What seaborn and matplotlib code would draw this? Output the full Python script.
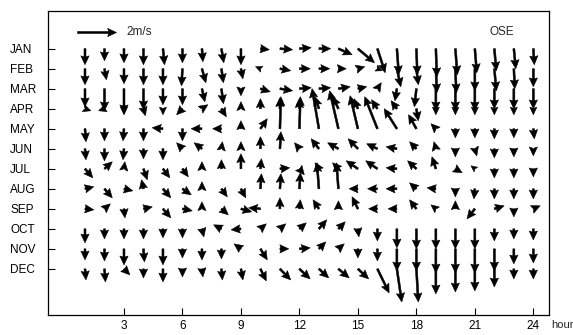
import numpy as np
import pandas as pd
import matplotlib
matplotlib.use("Agg")
import matplotlib.pyplot as plt
import seaborn as sns

# Mean wind vectors at OSE by month and hour of day (m/s)
months = ["JAN", "FEB", "MAR", "APR", "MAY", "JUN",
          "JUL", "AUG", "SEP", "OCT", "NOV", "DEC"]
hours = list(range(1, 25))
hour_ticks = [3, 6, 9, 12, 15, 18, 21, 24]

# eastward (u) and northward (v) components, hours 1..24
jan_u = [0, 0, 0, 0, 0.08, 0, 0.05, 0.12, 0, 0.45, 0.65, 0.6, 0.6, 0.7, 0.85, 0.4, 0.1, 0.05, 0.05, 0.1, 0.1, 0.1, 0.1, 0.05]
jan_v = [-0.8, -0.6, -0.7, -0.8, -0.8, -0.7, -0.65, -0.7, -0.8, -0.05, -0.05, 0.05, 0.0, -0.3, -0.7, -1.2, -1.3, -1.3, -1.4, -1.3, -1.2, -1.1, -1.0, -0.8]
feb_u = [0, 0.1, 0, 0, 0, -0.05, 0.2, 0.1, 0.1, -0.25, 0.55, 0.55, 0.55, 0.4, 0.35, 0.25, 0.2, 0.1, 0.05, 0.05, 0.0, 0.1, 0.05, 0.0]
feb_v = [-0.8, -0.55, -0.75, -0.8, -0.8, -0.85, -0.7, -0.7, -0.5, 0.1, -0.1, 0.0, 0.0, 0.0, 0.1, -0.1, -0.9, -0.8, -1.2, -1.2, -1.1, -1.1, -1.0, -0.9]
mar_u = [0, 0, 0, 0, 0, 0, 0.15, 0.1, 0, 0.5, 0.65, 0.6, 0.6, 0.6, 0.45, 0.2, -0.1, -0.1, 0, 0, 0, 0, 0, 0]
mar_v = [-0.9, -1.1, -1.25, -1.05, -0.8, -0.8, -0.65, -0.75, -0.35, -0.15, -0.1, 0.05, 0.05, 0.1, 0.1, 0.3, -0.6, -0.9, -1.1, -1.1, -1.1, -1.0, -1.0, -1.0]
apr_u = [0.3, -0.3, 0, 0.1, 0, -0.3, 0.3, 0.25, 0, 0, 0, 0, -0.2, -0.3, -0.2, -0.3, -0.3, 0.1, 0, 0, 0, 0, 0, 0]
apr_v = [-0.1, -0.1, -0.3, -0.35, -0.3, -0.3, 0.2, -0.4, 0.35, 0.5, 0.55, 0.5, 0.6, 0.6, 0.5, 0.45, 0.4, -0.6, -0.3, -0.3, -0.3, -0.3, -0.3, -0.3]
may_u = [0.05, 0, -0.05, 0, -0.55, 0, -0.55, -0.45, 0, 0.35, 0.05, 0.05, -0.35, -0.45, -0.4, -0.65, -0.65, -0.4, -0.25, 0, 0, 0, 0, 0.05]
may_v = [-0.65, -0.6, -0.6, -0.6, 0.05, -0.6, 0.0, 0.0, 0.4, 0.5, 1.6, 1.6, 2.0, 1.9, 1.65, 1.6, 1.0, 0.7, 0.25, -0.45, -0.45, -0.5, -0.45, -0.5]
jun_u = [0.05, 0, -0.05, 0, 0, -0.3, -0.4, 0.05, 0, 0, 0.05, -0.25, -0.4, -0.55, -0.5, -0.55, -0.55, -0.35, -0.1, 0, 0.1, 0, 0, 0]
jun_v = [-0.55, -0.6, -0.55, -0.5, -0.55, 0.3, 0.3, 0.35, 0.35, 0.6, 0.85, 0.3, 0.5, 0.3, 0.5, 0.25, 0.1, 0.35, 0.35, -0.4, -0.35, -0.45, -0.4, -0.35]
jul_u = [0.4, 0.4, 0.05, 0.2, 0.35, 0.3, 0, 0, 0, 0.05, 0.5, 0.25, -0.2, -0.3, -0.6, -0.6, -0.55, -0.45, -0.2, 0.35, -0.2, 0, 0, 0]
jul_v = [-0.45, 0.35, 0.35, -0.55, -0.45, -0.4, 0.35, 0.45, 0.75, 0.5, 0.05, -0.3, 0.3, 0.3, 0.4, 0.4, 0.05, 0.4, 0.6, -0.2, 0.15, -0.45, -0.45, -0.4]
aug_u = [0.45, 0.4, 0.45, -0.1, 0.4, 0.45, 0, 0.3, 0.25, 0.05, 0.05, 0.05, -0.1, -0.1, -0.45, -0.5, -0.55, -0.35, -0.45, 0, -0.05, 0, 0, 0]
aug_v = [0.1, -0.45, -0.1, 0.45, -0.45, -0.3, 0.35, -0.4, -0.45, 0.75, 0.75, 0.8, 1.3, 1.3, 0.0, 0.0, 0.0, 0.3, 0.05, -0.4, -0.5, -0.5, -0.5, -0.5]
sep_u = [0.45, 0.3, 0.05, 0.45, 0.4, 0.5, 0, 0.35, 0.55, -0.6, 0, 0.05, -0.3, 0, -0.3, -0.45, -0.45, -0.35, -0.25, 0, -0.4, 0.5, 0, 0.35]
sep_v = [-0.05, 0.25, -0.45, 0.1, -0.45, -0.1, 0.35, -0.3, -0.15, 0.05, 0.55, 0.45, 0.45, 0.4, 0.6, 0.0, 0.0, 0.45, 0.2, 0.4, -0.5, 0.15, -0.4, 0.15]
oct_u = [0, 0, 0, 0, 0, 0, 0.1, -0.4, -0.5, 0.3, 0.3, 0.35, 0.4, 0.35, 0.05, 0, 0, 0, 0, 0, 0, 0, 0, 0]
oct_v = [-0.7, -0.5, -0.5, -0.5, -0.45, -0.45, -0.4, 0.2, -0.05, 0.25, 0.25, 0.3, 0.45, 0.35, -0.4, -0.6, -0.95, -1.0, -1.0, -1.0, -1.0, -0.6, -0.5, -0.55]
nov_u = [0, 0, 0, 0.05, 0, 0, 0, 0, -0.35, 0.35, 0.45, 0.55, 0.35, 0.3, 0, 0, 0, 0, 0, 0, 0, 0, 0, 0]
nov_v = [-0.55, -0.6, -0.8, -0.65, -0.8, -0.45, -0.55, -0.5, 0.25, -0.55, 0.0, 0.05, 0.35, 0.25, -0.45, -0.6, -1.1, -1.1, -1.2, -1.2, -1.2, -1.1, -0.75, -0.7]
dec_u = [0.05, 0.05, 0.3, 0, 0, 0, 0.05, 0.05, 0.1, 0.3, 0.55, 0.55, 0.5, 0.55, 0.55, 0.6, 0.25, 0.1, 0, 0, 0, 0, 0, 0]
dec_v = [-0.55, -0.65, -0.3, -0.45, -0.65, -0.4, -0.4, -0.55, -0.55, -0.6, -0.55, -0.5, -0.45, -0.45, -0.5, -1.2, -1.65, -1.65, -1.25, -1.15, -1.1, -0.9, -0.5, -0.5]

u_rows = [jan_u, feb_u, mar_u, apr_u, may_u, jun_u, jul_u, aug_u, sep_u, oct_u, nov_u, dec_u]
v_rows = [jan_v, feb_v, mar_v, apr_v, may_v, jun_v, jul_v, aug_v, sep_v, oct_v, nov_v, dec_v]

records = []
for row, (name, us, vs) in enumerate(zip(months, u_rows, v_rows)):
    for h, u, v in zip(hours, us, vs):
        records.append({"month": name, "row": row, "hour": h, "u": u, "v": v})
df = pd.DataFrame(records)

sns.set_theme(style="ticks")
plt.rcParams["font.family"] = ["Liberation Sans", "DejaVu Sans"]

fig = plt.figure(figsize=(5.73, 3.35), dpi=100)
ax = fig.add_axes([0.083, 0.06, 0.875, 0.907])

# y axis runs JAN (top) to DEC (bottom); north is drawn upward on screen
q = ax.quiver(df["hour"], df["row"], df["u"], -df["v"],
              angles="xy", scale_units="xy", scale=1, units="xy",
              width=0.1, headwidth=4.2, headlength=4.5, headaxislength=4.0,
              minlength=0.1, minshaft=0.8, pivot="tail", color="black",
              edgecolor="black", linewidth=0.4)

ax.set_xlim(-0.92, 24.8)
ax.set_ylim(13.3, -1.88)

ax.quiverkey(q, X=2.6, Y=-0.83, U=2, label="2m/s", labelpos="E",
             coordinates="data", labelsep=0.1, color="black",
             fontproperties={"size": 8.5})
ax.text(22.4, -0.83, "OSE", fontsize=8.5, ha="center", va="center")

ax.set_xticks(hour_ticks)
ax.set_xticklabels([str(h) for h in hour_ticks])
ax.set_yticks(range(len(months)))
ax.set_yticklabels(months, ha="left")
ax.tick_params(direction="in", length=5, width=0.8, labelsize=8.5, colors="black")
ax.tick_params(axis="y", pad=27)
ax.tick_params(axis="x", pad=4)
for s in ax.spines.values():
    s.set_linewidth(0.9)
    s.set_color("black")

fig.text(551 / 573, 1 - 325 / 335, "hour", fontsize=8, ha="left", va="center")

fig.savefig("out.png", dpi=100)
